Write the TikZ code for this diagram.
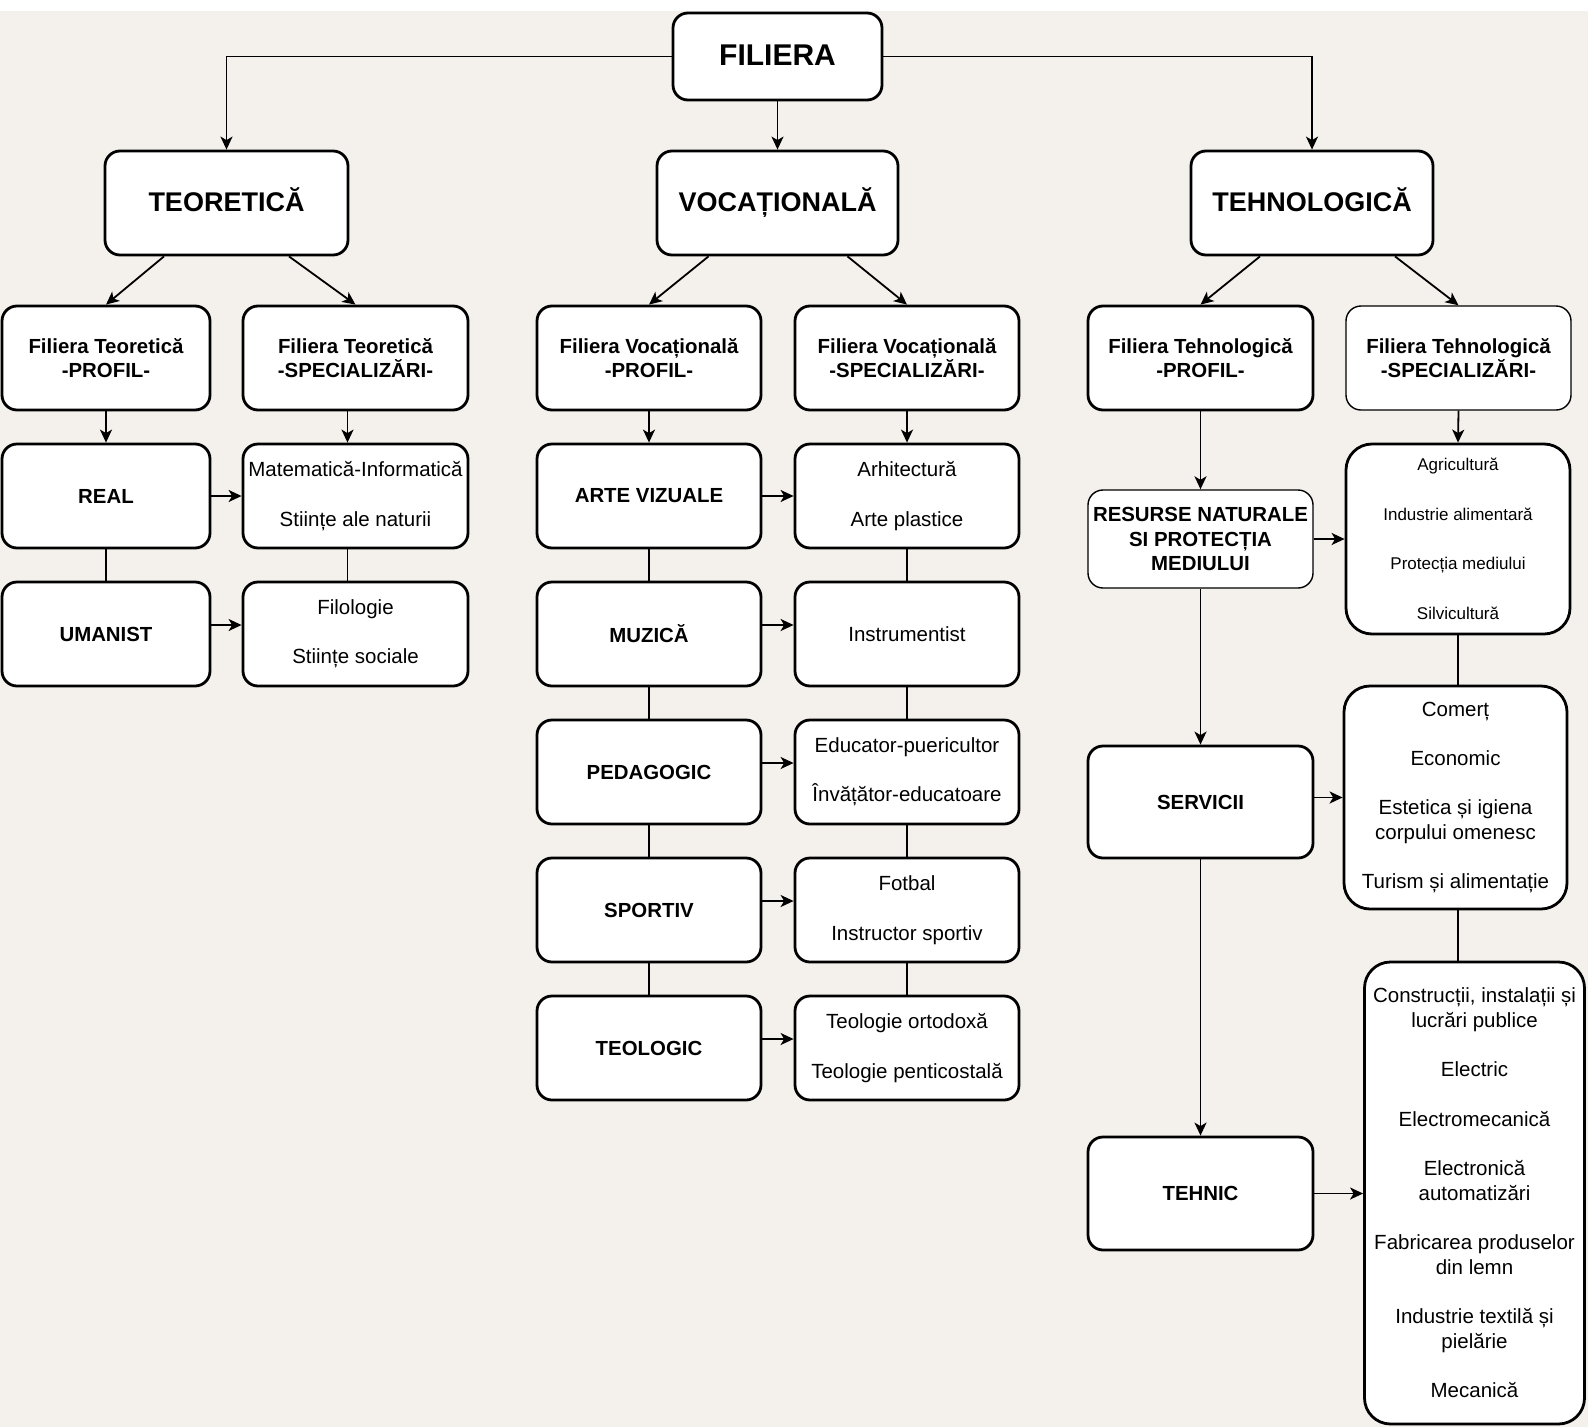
\documentclass[tikz,border=0pt]{standalone}
\usepackage{fontspec}
\setmainfont{Liberation Sans}
\usetikzlibrary{arrows.meta,calc}
\definecolor{bgc}{HTML}{F4F0EC}
\begin{document}
\begin{tikzpicture}[x=1pt,y=-1pt,
  line width=1.8pt,
  >={Stealth[length=13pt,width=12pt,inset=3.5pt]},
  bx/.style={draw=black, fill=white, line width=2.8pt, rounded corners=15pt, inner sep=2pt, align=center, text=black},
  thinb/.style={line width=1.4pt},
  bigr/.style={rounded corners=26pt},
  fb/.style={font=\fontsize{20.4}{24.5}\selectfont\bfseries},
  fr/.style={font=\fontsize{20.5}{24.7}\selectfont},
  fs/.style={font=\fontsize{17}{24.75}\selectfont},
  fl/.style={font=\fontsize{27}{32}\selectfont\bfseries, text height=16.3pt, text depth=0pt},
  ft/.style={font=\fontsize{30}{36}\selectfont\bfseries, text height=18pt, text depth=0pt},
  sz/.style 2 args={minimum width=#1pt, minimum height=#2pt},
]
\fill[white] (0,0) rectangle (1588,1427);
\fill[bgc] (0,11) rectangle (1588,1427);
\useasboundingbox (0,0) rectangle (1588,1427);

% top levels
\node[bx,ft,sz={209}{87}] (fil) at (777.5,56.5) {FILIERA};
\node[bx,fl,sz={243}{104}] (teo) at (226.5,203) {TEORETICĂ};
\node[bx,fl,sz={241}{104}] (voc) at (777.5,203) {VOCAȚIONALĂ};
\node[bx,fl,sz={242}{104}] (teh) at (1312,203) {TEHNOLOGICĂ};

% row 2
\node[bx,fb,sz={208}{104}] (tp) at (106,358) {Filiera Teoretică\\-PROFIL-};
\node[bx,fb,sz={225}{104}] (ts) at (355.5,358) {Filiera Teoretică\\-SPECIALIZĂRI-};
\node[bx,fb,sz={224}{104}] (vp) at (649,358) {Filiera Vocațională\\-PROFIL-};
\node[bx,fb,sz={224}{104}] (vs) at (907,358) {Filiera Vocațională\\-SPECIALIZĂRI-};
\node[bx,fb,sz={225}{104}] (hp) at (1200.5,358) {Filiera Tehnologică\\-PROFIL-};
\node[bx,fb,thinb,sz={225}{104}] (hs) at (1458.5,358) {Filiera Tehnologică\\-SPECIALIZĂRI-};

% teoretica
\node[bx,fb,sz={208}{104}] (real) at (106,496) {REAL};
\node[bx,fb,sz={208}{104}] (uman) at (106,634) {UMANIST};
\node[bx,fr,sz={225}{104}] (mi) at (355.5,496) {Matematică-Informatică\\[24.7pt]Stiințe ale naturii};
\node[bx,fr,sz={225}{104}] (fi) at (355.5,634) {Filologie\\[24.7pt]Stiințe sociale};

% vocationala
\node[bx,fb,sz={224}{104}] (arte) at (649,496) {ARTE VIZUALE};
\node[bx,fb,sz={224}{104}] (muz) at (649,634) {MUZICĂ};
\node[bx,fb,sz={224}{104}] (ped) at (649,772) {PEDAGOGIC};
\node[bx,fb,sz={224}{104}] (spo) at (649,910) {SPORTIV};
\node[bx,fb,sz={224}{104}] (teol) at (649,1048) {TEOLOGIC};
\node[bx,fr,sz={224}{104}] (arh) at (907,496) {Arhitectură\\[24.7pt]Arte plastice};
\node[bx,fr,sz={224}{104}] (ins) at (907,634) {Instrumentist};
\node[bx,fr,sz={224}{104}] (edu) at (907,772) {Educator-puericultor\\[24.7pt]Învățător-educatoare};
\node[bx,fr,sz={224}{104}] (fot) at (907,910) {Fotbal\\[24.7pt]Instructor sportiv};
\node[bx,fr,sz={224}{104}] (teo2) at (907,1048) {Teologie ortodoxă\\[24.7pt]Teologie penticostală};

% tehnologica
\node[bx,fb,thinb,sz={225}{98}] (res) at (1200.5,539) {RESURSE NATURALE\\SI PROTECȚIA\\MEDIULUI};
\node[bx,fb,sz={225}{112}] (serv) at (1200.5,802) {SERVICII};
\node[bx,fb,sz={225}{113}] (tn) at (1200.5,1193.5) {TEHNIC};
\node[bx,fs,bigr,sz={224}{190}] (agri) at (1458,539) {Agricultură\\[24.75pt]Industrie alimentară\\[24.75pt]Protecția mediului\\[24.75pt]Silvicultură};
\node[bx,fr,bigr,sz={223}{223}] (com) at (1455.5,797.5) {Comerț\\[24.7pt]Economic\\[24.7pt]Estetica și igiena\\corpului omenesc\\[24.7pt]Turism și alimentație};
\node[bx,fr,bigr,sz={220}{462}] (cons) at (1474.5,1193) {Construcții, instalații și\\lucrări publice\\[24.7pt]Electric\\[24.7pt]Electromecanică\\[24.7pt]Electronică\\automatizări\\[24.7pt]Fabricarea produselor\\din lemn\\[24.7pt]Industrie textilă și\\pielărie\\[24.7pt]Mecanică};

% top connectors
\draw[->] (fil.west) -| (teo.north);
\draw[->] (fil.south) -- (voc.north);
\draw[->] (fil.east) -| (teh.north);
\draw[->] ([xshift=-62.5pt]teo.south) -- (tp.north);
\draw[->] ([xshift=62.5pt]teo.south) -- (ts.north);
\draw[->] ([xshift=-69pt]voc.south) -- (vp.north);
\draw[->] ([xshift=70pt]voc.south) -- (vs.north);
\draw[->] ([xshift=-52pt]teh.south) -- (hp.north);
\draw[->] ([xshift=83pt]teh.south) -- (hs.north);

% teoretica connectors
\draw[->] (tp.south) -- (real.north);
\draw (real.south) -- (uman.north);
\draw[->] (real.east) -- (mi.west);
\draw[->] ([yshift=9pt]uman.east) -- ([yshift=9pt]fi.west);
\draw[->] ([xshift=-8pt]ts.south) -- ([xshift=-8pt]mi.north);
\draw ([xshift=-8pt]mi.south) -- ([xshift=-8pt]fi.north);

% vocationala connectors
\draw[->] (vp.south) -- (arte.north);
\draw (arte.south) -- (muz.north);
\draw (muz.south) -- (ped.north);
\draw (ped.south) -- (spo.north);
\draw (spo.south) -- (teol.north);
\draw[->] (vs.south) -- (arh.north);
\draw (arh.south) -- (ins.north);
\draw (ins.south) -- (edu.north);
\draw (edu.south) -- (fot.north);
\draw (fot.south) -- (teo2.north);
\draw[->] (arte.east) -- (arh.west);
\draw[->] ([yshift=9pt]muz.east) -- ([yshift=9pt]ins.west);
\draw[->] ([yshift=9pt]ped.east) -- ([yshift=9pt]edu.west);
\draw[->] ([yshift=9pt]spo.east) -- ([yshift=9pt]fot.west);
\draw[->] ([yshift=9pt]teol.east) -- ([yshift=9pt]teo2.west);

% tehnologica connectors
\draw[->] (hp.south) -- (res.north);
\draw[->] (res.south) -- (serv.north);
\draw[->] (serv.south) -- (tn.north);
\draw[->] (hs.south) -- (agri.north);
\draw[->] (res.east) -- (agri.west);
\draw (agri.south) -- (agri.south |- com.north);
\draw[->] (com.west -| serv.east) -- (com.west);
\draw (agri.south |- com.south) -- (agri.south |- cons.north);
\draw[->] (tn.east) -- (tn.east -| cons.west);
\end{tikzpicture}
\end{document}
